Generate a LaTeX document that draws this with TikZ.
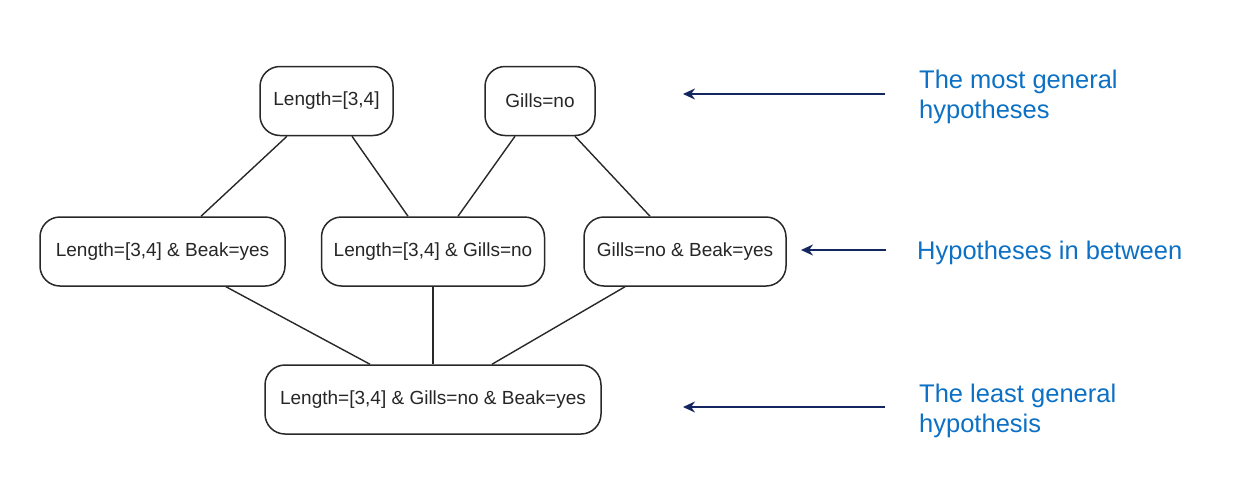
\documentclass[tikz,border=0pt]{standalone}
\usepackage{fontspec}
\setmainfont{Liberation Sans}
\usetikzlibrary{arrows.meta,calc}
\definecolor{navy}{RGB}{20,38,96}
\definecolor{lblue}{RGB}{12,112,196}
\definecolor{boxline}{RGB}{40,40,40}
\begin{document}
\begin{tikzpicture}[x=1pt,y=-1pt,
  hyp/.style={draw=boxline, line width=1.5pt, rounded corners=20pt, inner sep=0pt,
    minimum height=69pt, text=black!85, font=\fontsize{19}{23}\selectfont},
  link/.style={draw=boxline, line width=1.4pt},
  pointer/.style={draw=navy, line width=2.6pt, -{Stealth[length=12pt,width=11pt]}},
  tag/.style={text=lblue, font=\fontsize{25.5}{30}\selectfont, inner sep=0pt, align=left}]
\useasboundingbox (0,0) rectangle (1251,491);
% hypothesis boxes
\node[hyp, minimum width=133pt] (L)   at (326.5,101)   {Length=[3,4]};
\node[hyp, minimum width=110pt] (G)   at (540,101)     {Gills=no};
\node[hyp, minimum width=245pt] (LB)  at (162.5,251.5) {Length=[3,4] \& Beak=yes};
\node[hyp, minimum width=223pt] (LG)  at (433,251.5)   {Length=[3,4] \& Gills=no};
\node[hyp, minimum width=202pt] (GB)  at (685,251.5)   {Gills=no \& Beak=yes};
\node[hyp, minimum width=336pt] (LGB) at (433,399.5)   {Length=[3,4] \& Gills=no \& Beak=yes};
% lattice links
\draw[link] ([xshift=-39.5pt]L.south) -- ([xshift=38.5pt]LB.north);
\draw[link] ([xshift=25.5pt]L.south)  -- ([xshift=-25pt]LG.north);
\draw[link] ([xshift=-25pt]G.south)   -- ([xshift=25pt]LG.north);
\draw[link] ([xshift=35pt]G.south)    -- ([xshift=-35pt]GB.north);
\draw[link] ([xshift=63.5pt]LB.south) -- ([xshift=-63pt]LGB.north);
\draw[link] (LG.south) -- (LGB.north);
\draw[link] ([xshift=-60pt]GB.south)  -- ([xshift=59pt]LGB.north);
% level labels
\node[tag, anchor=north west] (t1) at (919,70)  {The most general\\hypotheses};
\node[tag, anchor=base west]  (t2) at (917,259) {Hypotheses in between};
\node[tag, anchor=north west] (t3) at (919,384) {The least general\\hypothesis};
% pointers
\coordinate (p1s) at (885,94);  \coordinate (p1e) at (683,94);
\coordinate (p2s) at (886,250); \coordinate (p2e) at (801,250);
\coordinate (p3s) at (885,407); \coordinate (p3e) at (683,407);
\draw[pointer] (p1s) -- (p1e);
\draw[pointer] (p2s) -- (p2e);
\draw[pointer] (p3s) -- (p3e);
\end{tikzpicture}
\end{document}
